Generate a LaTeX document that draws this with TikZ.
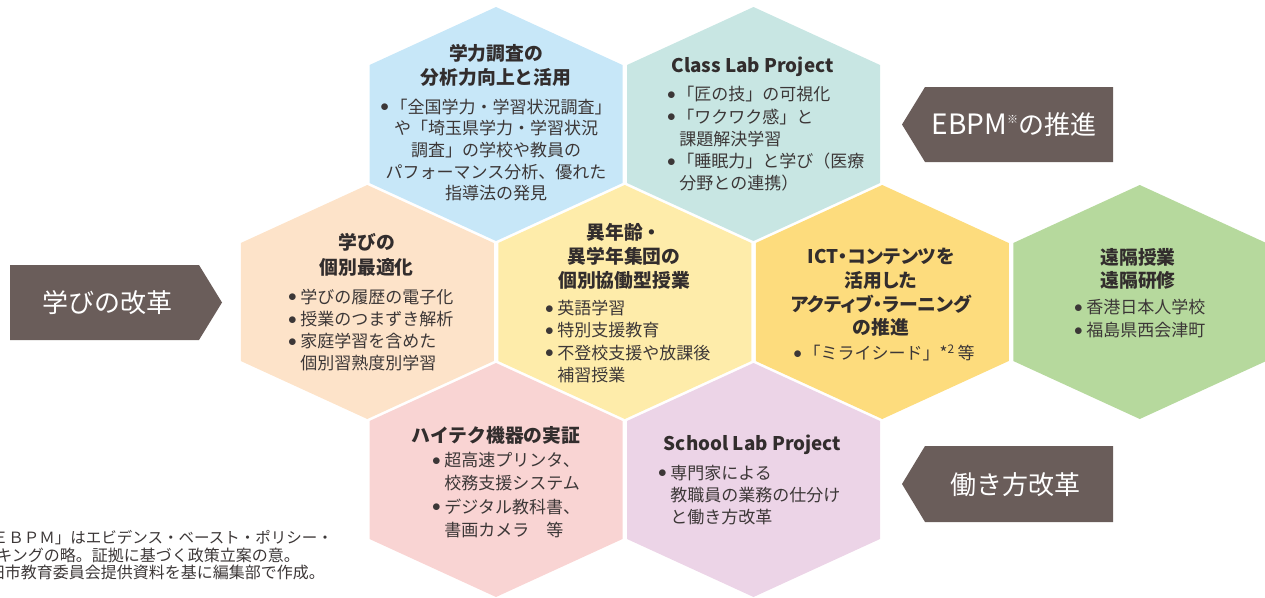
\documentclass[tikz,border=0pt]{standalone}
\usepackage{fontspec}
\setmainfont{Noto Sans CJK JP}
\newfontfamily\palfont{Noto Sans CJK JP}[RawFeature=+palt]
\definecolor{hblue}{RGB}{199,231,248}
\definecolor{hteal}{RGB}{200,230,227}
\definecolor{horange}{RGB}{253,227,201}
\definecolor{hyellow}{RGB}{254,236,170}
\definecolor{hgold}{RGB}{253,220,125}
\definecolor{hgreen}{RGB}{182,217,157}
\definecolor{hpink}{RGB}{249,212,211}
\definecolor{hlav}{RGB}{236,212,231}
\definecolor{tagcol}{RGB}{106,93,90}
\definecolor{ttlcol}{RGB}{50,45,45}
\definecolor{txtcol}{RGB}{60,55,55}
\newcommand\myhex[4]{%
  \fill[#4] (#2,#3) ++(0,-117) -- ++(126.5,58) -- ++(0,118) -- ++(-126.5,58)
    -- ++(-126.5,-58) -- ++(0,-118) -- cycle;
  \coordinate (#1) at (#2,#3);}
\newcommand\bb{\makebox[0.72em][l]{\raisebox{0.08em}{$\bullet$}}}
\newcommand\bq{\makebox[0.6em][l]{\raisebox{0.08em}{$\bullet$}}}
\newcommand\ind{\hspace*{0.72em}}
\newcommand\indq{\hspace*{0.72em}}
\tikzset{
  ttl/.style={font=\fontsize{18.8}{24.5}\selectfont\bfseries, text=ttlcol, align=center, inner sep=0pt},
  bdy/.style={font=\fontsize{17}{22.2}\selectfont, text=txtcol, align=left, inner sep=0pt, anchor=west},
  bdyc/.style={font=\fontsize{17}{21.6}\selectfont, text=txtcol, align=center, inner sep=0pt},
  tagtext/.style={font=\fontsize{26}{26}\selectfont, text=white, inner sep=0pt},
  tagshape/.style={fill=tagcol},
  note/.style={font=\fontsize{16}{17}\selectfont, text=txtcol, inner sep=0pt, anchor=east}
}
\begin{document}
\begin{tikzpicture}[x=1pt,y=-1pt]
\useasboundingbox (0,0) rectangle (1265,597);
% hexagons
\myhex{hA}{496}{124}{hblue}
\myhex{hB}{753.5}{124}{hteal}
\myhex{hC}{367.25}{302}{horange}
\myhex{hD}{624.75}{302}{hyellow}
\myhex{hE}{882.25}{302}{hgold}
\myhex{hF}{1139.75}{302}{hgreen}
\myhex{hG}{496}{480}{hpink}
\myhex{hH}{753.5}{480}{hlav}
% blue
\node[ttl] (tA) at (496,65.5) {学力調査の\\分析力向上と活用};
\node[bdyc] (bA) at (496,150) {\bq{}「全国学力・学習状況調査」\\や「埼玉県学力・学習状況\\調査」の学校や教員の\\パフォーマンス分析、優れた\\指導法の発見};
% teal
\node[ttl] (tB) at (752.5,67) {Class Lab Project};
\node[bdy] (bB) at (667,139) {\bq{}「匠の技」の可視化\\\bq{}「ワクワク感」と\\\indq{}課題解決学習\\\bq{}「睡眠力」と学び（医療\\\indq{}分野との連携）};
% orange
\node[ttl] (tC) at (366.7,255) {学びの\\個別最適化};
\node[bdy] (bC) at (288,330) {\bb{}学びの履歴の電子化\\\bb{}授業のつまずき解析\\\bb{}家庭学習を含めた\\\ind{}個別習熟度別学習};
% yellow
\node[ttl, font=\fontsize{18.8}{24}\selectfont\bfseries] (tD) at (624,256) {異年齢・\\異学年集団の\\個別協働型授業};
\node[bdy] (bD) at (545,341.5) {\bb{}英語学習\\\bb{}特別支援教育\\\bb{}不登校支援や放課後\\\ind{}補習授業};
% gold
\node[ttl, font=\palfont\fontsize{18.8}{23.7}\selectfont\bfseries] (tE) at (881,292.5) {ICT・コンテンツを\\活用した\\アクティブ・ラーニング\\の推進};
\node[bdyc] (bE) at (884,353) {\bq{}「ミライシード」*\textsuperscript{2}\,等};
% green
\node[ttl, font=\fontsize{18.8}{23}\selectfont\bfseries] (tF) at (1138,268.5) {遠隔授業\\遠隔研修};
\node[bdy, font=\fontsize{17}{23}\selectfont] (bF) at (1074,318.5) {\bb{}香港日本人学校\\\bb{}福島県西会津町};
% pink
\node[ttl] (tG) at (496,435) {ハイテク機器の実証};
\node[bdy, font=\fontsize{17}{23.3}\selectfont] (bG) at (432,495) {\bb{}超高速プリンタ、\\\ind{}校務支援システム\\\bb{}デジタル教科書、\\\ind{}書画カメラ　等};
% lavender
\node[ttl] (tH) at (752.5,445) {School Lab Project};
\node[bdy] (bH) at (658,495) {\bb{}専門家による\\\ind{}教職員の業務の仕分け\\\ind{}と働き方改革};
% tags
\fill[tagshape] (10,265) -- (199,265) -- (222,302.5) -- (199,340) -- (10,340) -- cycle;
\node[tagtext] (kL) at (107.5,303) {学びの改革};
\fill[tagshape] (1113,87) -- (925,87) -- (902,124.5) -- (925,162) -- (1113,162) -- cycle;
\node[tagtext] (kE) at (1014,125) {{\fontsize{28}{28}\selectfont EBPM}\raisebox{0.45em}{\fontsize{11}{11}\selectfont ※}の推進};
\fill[tagshape] (1113,446) -- (925,446) -- (902,484) -- (925,522) -- (1113,522) -- cycle;
\node[tagtext] (kW) at (1015,485) {働き方改革};
% footnote
\node[note, font=\fontsize{15.5}{17}\selectfont] (n1) at (333,538) {ＥＢＰＭ」はエビデンス・ベースト・ポリシー・};
\node[note] (n2) at (300,555) {キングの略。証拠に基づく政策立案の意。};
\node[note] (n3) at (325,572) {田市教育委員会提供資料を基に編集部で作成。};
\end{tikzpicture}
\end{document}
